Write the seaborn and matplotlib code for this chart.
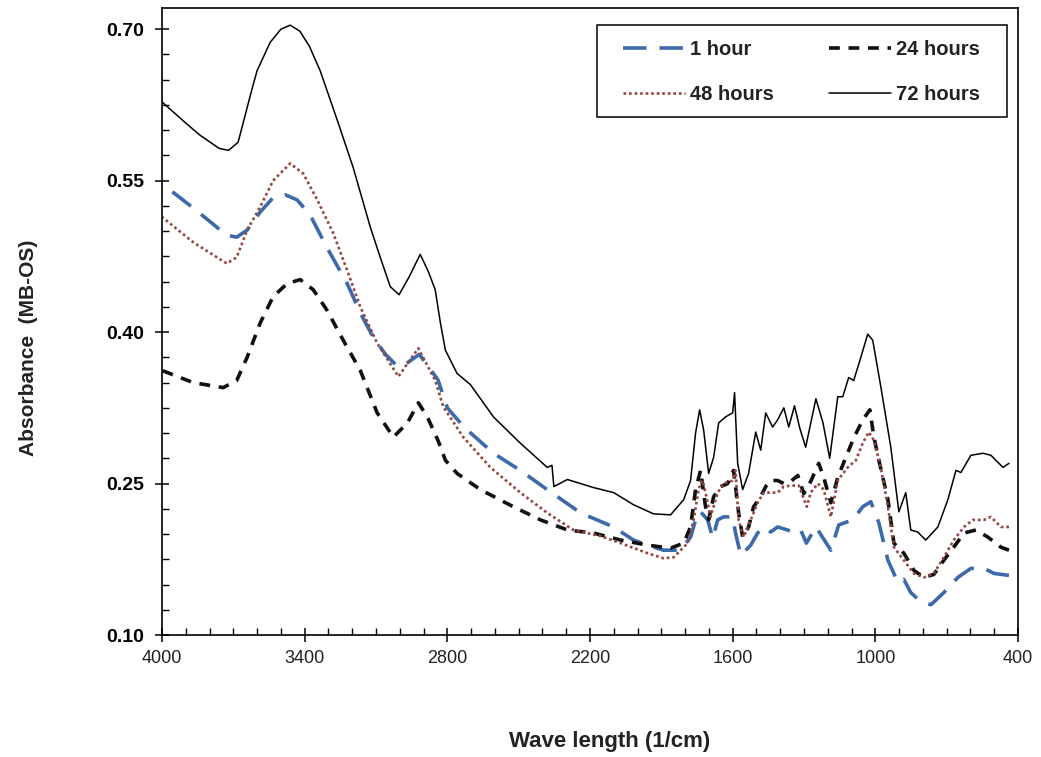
import matplotlib
matplotlib.use("Agg")
import matplotlib.pyplot as plt
import seaborn as sns
import numpy as np
import pandas as pd
from matplotlib.ticker import MultipleLocator, FixedLocator
from matplotlib.patches import Rectangle

# ---------------- data ----------------
x_1h = [4000, 3869, 3728, 3686, 3642, 3587, 3533, 3482, 3432, 3377, 3307, 3221, 3166, 3112,
        3060, 3010, 2965, 2918, 2840, 2800, 2745, 2716, 2606, 2493, 2380, 2240, 2101, 2017,
        1958, 1891, 1819, 1777, 1747, 1735, 1705, 1684, 1663, 1638, 1600, 1588, 1566, 1524,
        1495, 1470, 1440, 1411, 1369, 1343, 1314, 1290, 1250, 1187, 1154, 1095, 1053, 1019,
        985, 947, 905, 880, 851, 809, 766, 712, 653, 598, 543, 501, 438]
y_1h = [0.547, 0.523, 0.496, 0.494, 0.501, 0.519, 0.533, 0.536, 0.531, 0.516, 0.484, 0.448,
        0.419, 0.395, 0.378, 0.366, 0.370, 0.378, 0.353, 0.325, 0.310, 0.303, 0.280, 0.263,
        0.244, 0.221, 0.207, 0.194, 0.189, 0.184, 0.184, 0.197, 0.221, 0.222, 0.214, 0.196,
        0.214, 0.217, 0.217, 0.201, 0.179, 0.189, 0.201, 0.207, 0.202, 0.207, 0.204, 0.201,
        0.204, 0.191, 0.207, 0.184, 0.209, 0.214, 0.227, 0.232, 0.211, 0.174, 0.152, 0.155,
        0.142, 0.133, 0.130, 0.142, 0.157, 0.166, 0.166, 0.161, 0.159]

x_24h = [4000, 3869, 3743, 3686, 3642, 3587, 3533, 3474, 3419, 3364, 3307, 3238, 3166, 3095,
         3027, 2968, 2922, 2884, 2838, 2808, 2759, 2661, 2522, 2408, 2295, 2185, 2071, 1958,
         1861, 1806, 1777, 1756, 1735, 1714, 1701, 1680, 1651, 1621, 1596, 1575, 1558, 1533,
         1512, 1482, 1461, 1440, 1411, 1385, 1356, 1326, 1301, 1272, 1238, 1217, 1187, 1158,
         1124, 1091, 1053, 1023, 1006, 985, 947, 922, 880, 838, 796, 754, 712, 670, 627, 577,
         527, 472, 438]
y_24h = [0.362, 0.350, 0.345, 0.352, 0.375, 0.409, 0.435, 0.448, 0.452, 0.442, 0.422, 0.392,
         0.362, 0.320, 0.296, 0.310, 0.330, 0.316, 0.292, 0.273, 0.260, 0.244, 0.227, 0.214,
         0.204, 0.201, 0.194, 0.189, 0.186, 0.191, 0.207, 0.244, 0.263, 0.227, 0.214, 0.237,
         0.247, 0.250, 0.263, 0.221, 0.197, 0.207, 0.227, 0.237, 0.247, 0.253, 0.253, 0.250,
         0.252, 0.258, 0.240, 0.252, 0.270, 0.256, 0.231, 0.256, 0.276, 0.295, 0.313, 0.323,
         0.296, 0.273, 0.234, 0.191, 0.181, 0.164, 0.157, 0.160, 0.174, 0.187, 0.201, 0.204,
         0.197, 0.187, 0.184]

x_48h = [4000, 3869, 3728, 3686, 3642, 3587, 3533, 3461, 3406, 3347, 3280, 3221, 3166, 3095,
         3006, 2922, 2851, 2817, 2733, 2619, 2493, 2380, 2270, 2156, 2071, 1958, 1891, 1848,
         1789, 1764, 1743, 1726, 1705, 1693, 1663, 1638, 1600, 1588, 1575, 1554, 1524, 1495,
         1470, 1440, 1411, 1385, 1356, 1322, 1288, 1272, 1242, 1217, 1187, 1158, 1116, 1082,
         1053, 1028, 1006, 977, 947, 922, 880, 838, 796, 754, 712, 670, 627, 590, 543, 514,
         472, 438]
y_48h = [0.514, 0.489, 0.468, 0.474, 0.501, 0.524, 0.550, 0.567, 0.557, 0.531, 0.498, 0.461,
         0.425, 0.389, 0.356, 0.384, 0.352, 0.326, 0.296, 0.266, 0.241, 0.221, 0.204, 0.198,
         0.191, 0.181, 0.176, 0.177, 0.191, 0.214, 0.245, 0.253, 0.231, 0.217, 0.241, 0.250,
         0.253, 0.263, 0.214, 0.197, 0.214, 0.231, 0.241, 0.241, 0.241, 0.247, 0.248, 0.248,
         0.227, 0.241, 0.250, 0.244, 0.217, 0.253, 0.266, 0.273, 0.290, 0.301, 0.293, 0.266,
         0.227, 0.187, 0.174, 0.161, 0.157, 0.161, 0.177, 0.194, 0.207, 0.214, 0.214, 0.217,
         0.207, 0.207]

x_72h = [4000, 3900, 3840, 3760, 3720, 3680, 3650, 3620, 3600, 3545, 3500, 3461, 3420, 3380,
         3335, 3263, 3196, 3124, 3082, 3040, 3003, 2960, 2914, 2880, 2851, 2829, 2808, 2759,
         2703, 2606, 2493, 2380, 2360, 2352, 2295, 2185, 2100, 2017, 1933, 1861, 1806, 1777,
         1756, 1739, 1722, 1701, 1680, 1659, 1630, 1600, 1592, 1579, 1558, 1533, 1503, 1482,
         1461, 1432, 1411, 1385, 1364, 1340, 1318, 1293, 1250, 1220, 1192, 1158, 1137, 1112,
         1091, 1061, 1032, 1011, 977, 935, 901, 872, 851, 822, 788, 737, 695, 661, 640, 598,
         547, 514, 463, 438]
y_72h = [0.628, 0.607, 0.595, 0.582, 0.580, 0.588, 0.615, 0.642, 0.659, 0.687, 0.700, 0.704,
         0.698, 0.683, 0.659, 0.610, 0.563, 0.504, 0.474, 0.445, 0.437, 0.455, 0.477, 0.460,
         0.442, 0.409, 0.382, 0.359, 0.348, 0.316, 0.290, 0.266, 0.268, 0.247, 0.254, 0.246,
         0.241, 0.229, 0.220, 0.219, 0.234, 0.253, 0.300, 0.323, 0.303, 0.260, 0.276, 0.310,
         0.316, 0.320, 0.340, 0.270, 0.244, 0.260, 0.301, 0.283, 0.320, 0.306, 0.313, 0.325,
         0.306, 0.327, 0.305, 0.286, 0.334, 0.310, 0.275, 0.336, 0.336, 0.355, 0.352, 0.375,
         0.398, 0.392, 0.346, 0.286, 0.222, 0.241, 0.204, 0.202, 0.194, 0.207, 0.234, 0.263,
         0.261, 0.278, 0.280, 0.278, 0.266, 0.270]

series_labels = ["1 hour", "24 hours", "48 hours", "72 hours"]
x_ticks = [4000, 3400, 2800, 2200, 1600, 1000, 400]
y_ticks = [0.10, 0.25, 0.40, 0.55, 0.70]

# ---------------- styling ----------------
sns.set_style("ticks")
plt.rcParams["font.family"] = ["Liberation Sans", "DejaVu Sans"]

W, H = 1041, 757
fig = plt.figure(figsize=(W / 100, H / 100), dpi=100)
ax = fig.add_axes([162 / W, 1 - 635 / H, (1018 - 162) / W, (635 - 8) / H])

styles = {
    "1 hour":   dict(color="#3D6BAA", lw=2.6, linestyle=(0, (6.5, 3.6))),
    "24 hours": dict(color="#111111", lw=2.6, linestyle=(0, (3.0, 2.4))),
    "48 hours": dict(color="#94453F", lw=1.9, linestyle=(0, (1.0, 1.1))),
    "72 hours": dict(color="#000000", lw=1.1, linestyle="-"),
}
data = {
    "1 hour": (x_1h, y_1h),
    "24 hours": (x_24h, y_24h),
    "48 hours": (x_48h, y_48h),
    "72 hours": (x_72h, y_72h),
}
for lab in series_labels:
    xs, ys = data[lab]
    df = pd.DataFrame({"x": xs, "y": ys})
    sns.lineplot(data=df, x="x", y="y", ax=ax, label=lab, estimator=None,
                 **styles[lab])

ax.set_xlim(4000, 400)
ax.set_ylim(0.10, 0.721)
ax.xaxis.set_major_locator(FixedLocator(x_ticks))
ax.xaxis.set_minor_locator(MultipleLocator(100))
ax.yaxis.set_major_locator(FixedLocator(y_ticks))
ax.yaxis.set_minor_locator(MultipleLocator(0.025))
ax.set_xticklabels([str(v) for v in x_ticks])
ax.set_yticklabels([f"{v:.2f}" for v in y_ticks])

for sp in ax.spines.values():
    sp.set_visible(True)
    sp.set_linewidth(1.2)
    sp.set_color("black")

ax.tick_params(which="major", direction="inout", length=10, width=1.1, colors="black")
ax.tick_params(which="minor", direction="in", length=5, width=1.0, colors="black")
ax.tick_params(axis="x", which="major", pad=6, labelsize=13)
ax.tick_params(axis="y", which="major", pad=8, labelsize=14)
for t in ax.get_yticklabels():
    t.set_fontweight("bold")
for t in ax.get_xticklabels():
    t.set_color("#222222")

ax.set_xlabel("Wave length (1/cm)", fontsize=16, fontweight="bold", color="#222222")
ax.xaxis.set_label_coords((610 - 162) / 856, -0.153)
ax.set_ylabel("Absorbance  (MB-OS)", fontsize=15, fontweight="bold", color="#222222")
ax.yaxis.set_label_coords(-0.145, (635 - 348) / 627)

# legend (frame drawn separately to reproduce its padding)
h, l = ax.get_legend_handles_labels()
order = [0, 2, 1, 3]
leg = ax.legend([h[i] for i in order], [l[i] for i in order], ncol=2,
                loc="upper left", bbox_to_anchor=(623 / W, 1 - 40 / H),
                bbox_transform=fig.transFigure, frameon=False,
                fontsize=14.5, handlelength=3.08, handletextpad=0.25,
                columnspacing=2.75, labelspacing=1.3,
                borderpad=0, borderaxespad=0)
for t in leg.get_texts():
    t.set_fontweight("bold")
    t.set_color("#222222")
fig.patches.append(Rectangle((597 / W, 1 - 117 / H), (1007 - 597) / W, (117 - 25) / H,
                             transform=fig.transFigure, fill=False, edgecolor="black",
                             linewidth=1.1, zorder=5))

fig.savefig("out.png", dpi=100, facecolor="white")
